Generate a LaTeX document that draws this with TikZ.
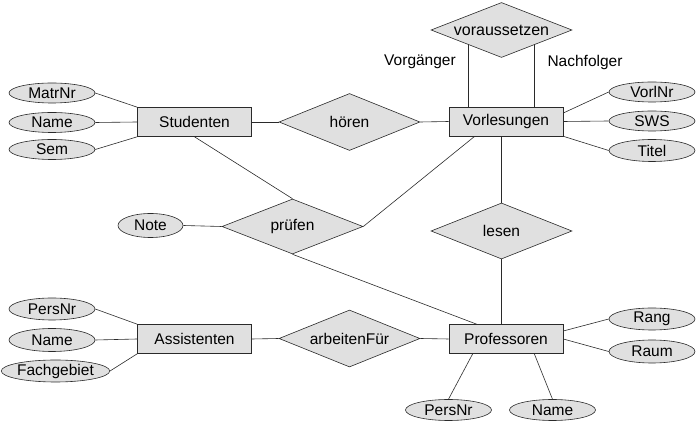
\documentclass[tikz,border=0pt]{standalone}
\usepackage{fontspec}
\setmainfont{Liberation Sans}
\usetikzlibrary{shapes.geometric,backgrounds}
\definecolor{boxfill}{HTML}{E0E0E0}
\definecolor{edgecol}{HTML}{2A2A2A}
\begin{document}
\begin{tikzpicture}[x=1pt,y=-1pt,
  every node/.style={font=\fontsize{15.5}{18}\selectfont, inner sep=0pt},
  entity/.style={draw=edgecol, fill=boxfill, rectangle, minimum width=114pt, minimum height=29pt, line width=0.6pt},
  rel/.style={draw=edgecol, fill=boxfill, diamond, aspect=2.55, minimum width=141pt, minimum height=57pt, line width=0.6pt},
  attr/.style={draw=edgecol, fill=boxfill, ellipse, minimum width=86pt, minimum height=20pt, line width=0.6pt},
  conn/.style={draw=edgecol, line width=0.6pt}]
\useasboundingbox (0,0) rectangle (697,427);
% entities
\node[entity] (stud) at (194.5,122) {Studenten};
\node[entity] (vor) at (506,121.5) {Vorlesungen};
\node[entity] (assi) at (194.5,339) {Assistenten};
\node[entity] (prof) at (506,339) {Professoren};
% relationships
\node[rel] (hoeren) at (349.5,122) {hören};
\node[rel, minimum height=55pt, font=\fontsize{16}{19}\selectfont] (vs) at (501.5,30) {voraussetzen};
\node[rel, minimum height=55pt] (pruefen) at (292.5,226.5) {prüfen};
\node[rel, minimum height=56pt] (lesen) at (501.5,231) {lesen};
\node[rel] (arb) at (349.5,338.5) {arbeitenFür};
% attributes
\node[attr] (matr) at (52,93) {MatrNr};
\node[attr] (sname) at (52,122.5) {Name};
\node[attr] (sem) at (52,149.5) {Sem};
\node[attr, minimum width=65pt, minimum height=24pt] (note) at (150.5,225.5) {Note};
\node[attr] (vnr) at (652,92) {VorlNr};
\node[attr] (sws) at (652,121) {SWS};
\node[attr, minimum height=22pt] (titel) at (652,150.5) {Titel};
\node[attr, minimum height=22pt] (apers) at (52,309) {PersNr};
\node[attr, minimum height=23pt] (aname) at (52,340) {Name};
\node[attr, minimum width=95pt, minimum height=22pt] (fach) at (55.5,371) {Fachgebiet};
\node[attr, minimum height=22pt] (rang) at (652,319) {Rang};
\node[attr, minimum height=23pt] (raum) at (652,351.5) {Raum};
\node[attr, minimum height=21pt] (ppers) at (448.5,410) {PersNr};
\node[attr, minimum height=21pt] (pname) at (552.5,410) {Name};
% role labels
\node (vg) at (420,62) {Vorgänger};
\node (nf) at (585,62) {Nachfolger};
% connectors
\begin{scope}[on background layer]
\draw[conn] ([xshift=20pt]vor.north west) -- ([xshift=20pt]vor.north west |- vs.center);
\draw[conn] ([xshift=-29pt]vor.north east) -- ([xshift=-29pt]vor.north east |- vs.center);
\end{scope}
\draw[conn] (matr.east) -- (stud.north west);
\draw[conn] (sname.east) -- (stud.west);
\draw[conn] (sem.east) -- (stud.south west);
\draw[conn] (stud.east) -- (hoeren.west);
\draw[conn] (hoeren.east) -- (vor.west);
\draw[conn] ([yshift=8.5pt]vor.east) -- (vnr.west);
\draw[conn] (vor.east) -- (sws.west);
\draw[conn] (vor.south east) -- (titel.west);
\draw[conn] (stud.south) -- (pruefen.north);
\draw[conn] ([xshift=26pt]vor.south west) -- (pruefen.east);
\draw[conn] (note.east) -- (pruefen.west);
\draw[conn] (pruefen.south) -- ([xshift=28pt]prof.north west);
\draw[conn] (lesen.north |- vor.south) -- (lesen.north);
\draw[conn] (lesen.south) -- (lesen.south |- prof.north);
\draw[conn] (apers.east) -- (assi.north west);
\draw[conn] (aname.east) -- (assi.west);
\draw[conn] (fach.east) -- (assi.south west);
\draw[conn] (assi.east) -- (arb.west);
\draw[conn] (arb.east) -- (prof.west);
\draw[conn] ([yshift=8pt]prof.east) -- (rang.west);
\draw[conn] (prof.east) -- (raum.west);
\draw[conn] ([xshift=24pt]prof.south west) -- (ppers.north);
\draw[conn] ([xshift=-29pt]prof.south east) -- (pname.north);
\end{tikzpicture}
\end{document}
